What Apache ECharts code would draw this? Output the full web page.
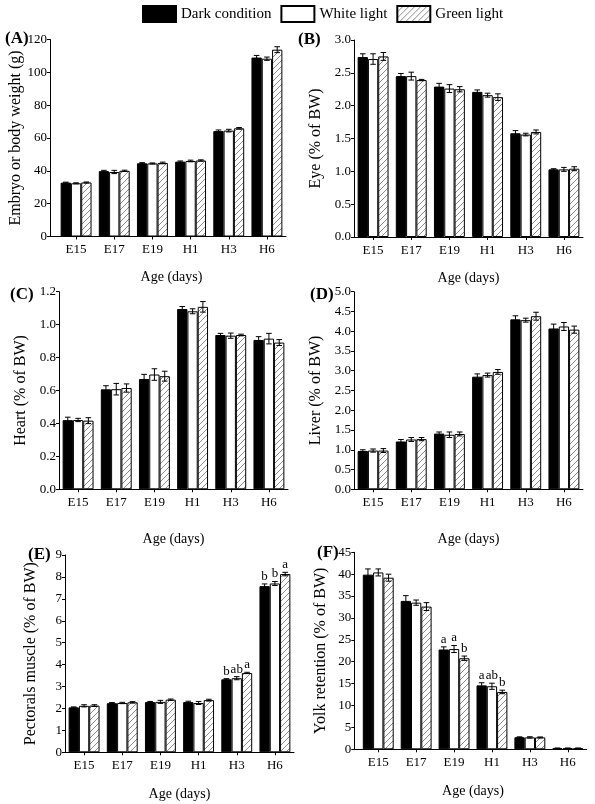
<!DOCTYPE html>
<html>
<head>
<meta charset="utf-8">
<script src="https://cdn.jsdelivr.net/npm/echarts@6/dist/echarts.min.js"></script>
<style>
html,body{margin:0;padding:0;background:#fff;}
#chart{width:595px;height:804px;}
</style>
</head>
<body>
<div id="chart"></div>
<script>
// ---------- data ----------
const categories = ['E15', 'E17', 'E19', 'H1', 'H3', 'H6'];
const seriesNames = ['Dark condition', 'White light', 'Green light'];

// (A) Embryo or body weight (g)
const weightDark = [32.8, 39.8, 44.6, 45.6, 64.2, 109.0];
const weightWhite = [32.4, 39.3, 44.5, 46.0, 64.5, 108.3];
const weightGreen = [32.9, 40.0, 44.8, 46.3, 65.9, 113.8];
const weightDarkErr = [0.3, 0.5, 0.4, 0.4, 0.7, 1.3];
const weightWhiteErr = [0.3, 1.0, 0.3, 0.5, 0.8, 1.0];
const weightGreenErr = [0.3, 0.4, 0.5, 0.4, 0.5, 1.8];

// (B) Eye (% of BW)
const eyeDark = [2.74, 2.45, 2.29, 2.21, 1.58, 1.03];
const eyeWhite = [2.71, 2.45, 2.26, 2.16, 1.56, 1.03];
const eyeGreen = [2.75, 2.39, 2.25, 2.13, 1.60, 1.04];
const eyeDarkErr = [0.05, 0.04, 0.05, 0.03, 0.04, 0.01];
const eyeWhiteErr = [0.08, 0.06, 0.06, 0.03, 0.02, 0.03];
const eyeGreenErr = [0.06, 0.01, 0.04, 0.05, 0.03, 0.03];

// (C) Heart (% of BW)
const heartDark = [0.42, 0.607, 0.67, 1.095, 0.937, 0.907];
const heartWhite = [0.421, 0.608, 0.697, 1.081, 0.933, 0.915];
const heartGreen = [0.417, 0.615, 0.687, 1.108, 0.937, 0.891];
const heartDarkErr = [0.018, 0.022, 0.028, 0.015, 0.01, 0.02];
const heartWhiteErr = [0.01, 0.035, 0.035, 0.015, 0.016, 0.032];
const heartGreenErr = [0.018, 0.025, 0.03, 0.032, 0.005, 0.018];

// (D) Liver (% of BW)
const liverDark = [0.97, 1.21, 1.41, 2.85, 4.30, 4.07];
const liverWhite = [0.98, 1.26, 1.38, 2.89, 4.28, 4.12];
const liverGreen = [0.98, 1.27, 1.40, 2.97, 4.38, 4.04];
const liverDarkErr = [0.03, 0.05, 0.04, 0.07, 0.09, 0.11];
const liverWhiteErr = [0.04, 0.05, 0.07, 0.05, 0.05, 0.10];
const liverGreenErr = [0.05, 0.04, 0.05, 0.06, 0.10, 0.09];

// (E) Pectorals muscle (% of BW)
const muscleDark = [2.05, 2.24, 2.29, 2.29, 3.33, 7.58];
const muscleWhite = [2.12, 2.25, 2.30, 2.25, 3.38, 7.70];
const muscleGreen = [2.13, 2.28, 2.40, 2.38, 3.62, 8.13];
const muscleDarkErr = [0.02, 0.03, 0.03, 0.04, 0.03, 0.10];
const muscleWhiteErr = [0.05, 0.03, 0.07, 0.07, 0.07, 0.09];
const muscleGreenErr = [0.04, 0.03, 0.03, 0.04, 0.03, 0.08];
const muscleDarkSig = ['', '', '', '', 'b', 'b'];
const muscleWhiteSig = ['', '', '', '', 'ab', 'b'];
const muscleGreenSig = ['', '', '', '', 'a', 'a'];

// (F) Yolk retention (% of BW)
const yolkDark = [39.9, 33.9, 22.8, 14.6, 2.75, 0.25];
const yolkWhite = [40.4, 33.5, 22.9, 14.4, 2.72, 0.25];
const yolkGreen = [39.2, 32.6, 20.8, 13.1, 2.72, 0.25];
const yolkDarkErr = [1.3, 1.2, 0.6, 0.6, 0.1, 0.05];
const yolkWhiteErr = [0.8, 0.6, 0.8, 0.7, 0.15, 0.05];
const yolkGreenErr = [0.8, 0.9, 0.5, 0.4, 0.1, 0.05];
const yolkDarkSig = ['', '', 'a', 'a', '', ''];
const yolkWhiteSig = ['', '', 'a', 'ab', '', ''];
const yolkGreenSig = ['', '', 'b', 'b', '', ''];

// y-axis tick settings
const yMaxA = 120, yStepA = 20;
const yMaxB = 3.0, yStepB = 0.5;
const yMaxC = 1.2, yStepC = 0.2;
const yMaxD = 5.0, yStepD = 0.5;
const yMaxE = 9, yStepE = 1;
const yMaxF = 45, yStepF = 5;

// ---------- layout ----------
const FONT = '"Liberation Serif", "Times New Roman", serif';
const panels = [
  {tag:'(A)', tagL:5, tagT:30, yName:'Embryo or body weight (g)', left:57, width:229, top:39.5, height:197, axisX:50, yGap:22, xGap:34, dec:0,
   max:yMaxA, step:yStepA, vals:[weightDark, weightWhite, weightGreen], errs:[weightDarkErr, weightWhiteErr, weightGreenErr], sig:null},
  {tag:'(B)', tagL:298, tagT:31, yName:'Eye (% of BW)', left:354, width:229, top:40, height:197, axisX:354, yGap:30, xGap:34, dec:1,
   max:yMaxB, step:yStepB, vals:[eyeDark, eyeWhite, eyeGreen], errs:[eyeDarkErr, eyeWhiteErr, eyeGreenErr], sig:null},
  {tag:'(C)', tagL:10, tagT:286, yName:'Heart (% of BW)', left:59, width:229, top:291.7, height:197.6, axisX:59, yGap:30, xGap:43, dec:1,
   max:yMaxC, step:yStepC, vals:[heartDark, heartWhite, heartGreen], errs:[heartDarkErr, heartWhiteErr, heartGreenErr], sig:null},
  {tag:'(D)', tagL:310, tagT:286, yName:'Liver (% of BW)', left:354, width:229, top:291.7, height:197.6, axisX:354, yGap:30, xGap:43, dec:1,
   max:yMaxD, step:yStepD, vals:[liverDark, liverWhite, liverGreen], errs:[liverDarkErr, liverWhiteErr, liverGreenErr], sig:null},
  {tag:'(E)', tagL:28, tagT:546, yName:'Pectorals muscle (% of BW)', left:65, width:229, top:555, height:197.3, axisX:65, yGap:26, xGap:35, dec:0,
   max:yMaxE, step:yStepE, vals:[muscleDark, muscleWhite, muscleGreen], errs:[muscleDarkErr, muscleWhiteErr, muscleGreenErr],
   sig:[muscleDarkSig, muscleWhiteSig, muscleGreenSig]},
  {tag:'(F)', tagL:317, tagT:544, yName:'Yolk retention (% of BW)', left:359.3, width:227.4, top:552.3, height:197, axisX:354.3, yGap:26, xGap:35, dec:0,
   max:yMaxF, step:yStepF, vals:[yolkDark, yolkWhite, yolkGreen], errs:[yolkDarkErr, yolkWhiteErr, yolkGreenErr],
   sig:[yolkDarkSig, yolkWhiteSig, yolkGreenSig]}
];

function hatchCanvas() {
  const c = document.createElement('canvas');
  c.width = 6; c.height = 6;
  const g = c.getContext('2d');
  g.fillStyle = '#fff'; g.fillRect(0, 0, 6, 6);
  g.strokeStyle = '#707070'; g.lineWidth = 0.8;
  g.beginPath();
  g.moveTo(0, 6); g.lineTo(6, 0);
  g.moveTo(-1, 1); g.lineTo(1, -1);
  g.moveTo(5, 7); g.lineTo(7, 5);
  g.stroke();
  return c;
}
const hatch = {image: hatchCanvas(), repeat: 'repeat'};
const fills = ['#000', '#fff', hatch];
const BW = 10.3;

const grids = [], xAxes = [], yAxes = [], series = [], titles = [];
panels.forEach((p) => {
  const gi = grids.length;
  grids.push({left: p.left, top: p.top, width: p.width, height: p.height, containLabel: false});
  xAxes.push({
    type: 'category', gridIndex: gi, data: categories,
    name: 'Age (days)', nameLocation: 'middle', nameGap: p.xGap,
    nameTextStyle: {fontFamily: FONT, fontSize: 14, color: '#000'},
    axisLine: {show: true, lineStyle: {color: '#000', width: 1}},
    axisTick: {show: true, alignWithLabel: true, length: 3, lineStyle: {color: '#000'}},
    axisLabel: {fontFamily: FONT, fontSize: 13, color: '#000', margin: 7},
    splitLine: {show: false}
  });
  yAxes.push({
    type: 'value', gridIndex: gi, min: 0, max: p.max, interval: p.step,
    offset: p.left - p.axisX,
    name: p.yName, nameLocation: 'middle', nameGap: p.yGap,
    nameTextStyle: {fontFamily: FONT, fontSize: 16, color: '#000'},
    axisLine: {show: true, lineStyle: {color: '#000', width: 1}},
    axisTick: {show: true, length: 3, lineStyle: {color: '#000'}},
    axisLabel: {fontFamily: FONT, fontSize: 13, color: '#000', margin: 3,
      formatter: v => v.toFixed(p.dec)},
    splitLine: {show: false}
  });
  titles.push({text: p.tag, left: p.tagL, top: p.tagT, padding: 0,
    textStyle: {fontFamily: FONT, fontSize: 17, fontWeight: 'bold', color: '#000'}});
  for (let k = 0; k < 3; k++) {
    series.push({
      type: 'bar', name: seriesNames[k], xAxisIndex: gi, yAxisIndex: gi,
      data: p.vals[k], barWidth: BW, barGap: '0%',
      itemStyle: {color: fills[k], borderColor: '#000', borderWidth: 1},
      emphasis: {disabled: true}, animation: false
    });
  }
  for (let k = 0; k < 3; k++) {
    const off = (k - 1) * BW;
    const letters = p.sig ? p.sig[k] : null;
    series.push({
      type: 'custom', xAxisIndex: gi, yAxisIndex: gi, z: 5, clip: false,
      data: p.vals[k].map((v, i) => [i, v, p.errs[k][i]]),
      renderItem: (params, api) => {
        const i = api.value(0), v = api.value(1), e = api.value(2);
        const x = api.coord([i, v])[0] + off;
        const yT = api.coord([i, v + e])[1];
        const yB = api.coord([i, v - e])[1];
        const cap = 2.8;
        const st = {stroke: '#000', lineWidth: 1};
        const ch = [
          {type: 'line', shape: {x1: x, y1: yT, x2: x, y2: yB}, style: st},
          {type: 'line', shape: {x1: x - cap, y1: yT, x2: x + cap, y2: yT}, style: st},
          {type: 'line', shape: {x1: x - cap, y1: yB, x2: x + cap, y2: yB}, style: st}
        ];
        const lab = letters ? letters[params.dataIndex] : '';
        if (lab) {
          ch.push({type: 'text', style: {text: lab, x: x, y: yT - 1, align: 'center', verticalAlign: 'bottom',
            font: '13px ' + FONT, fill: '#000'}});
        }
        return {type: 'group', children: ch};
      },
      animation: false, silent: true
    });
  }
  // axis-line extension where the y axis sits left of the category band
  if (p.left - p.axisX > 0.5) {
    const gj = grids.length;
    grids.push({left: p.axisX, top: p.top, width: p.left - p.axisX + 1, height: p.height});
    xAxes.push({type: 'value', gridIndex: gj, min: 0, max: 1,
      axisLine: {show: true, onZero: false, lineStyle: {color: '#000', width: 1}},
      axisTick: {show: false}, axisLabel: {show: false}, splitLine: {show: false}});
    yAxes.push({type: 'value', gridIndex: gj, min: 0, max: 1, show: false});
  }
});

const chart = echarts.init(document.getElementById('chart'), null, {renderer: 'canvas'});
chart.setOption({
  backgroundColor: '#fff',
  animation: false,
  title: titles,
  legend: {
    data: seriesNames, left: 142, top: 5, padding: 0,
    itemWidth: 33, itemHeight: 16, itemGap: 9, icon: 'rect',
    textStyle: {fontFamily: FONT, fontSize: 15, color: '#000'},
    selectedMode: false
  },
  grid: grids, xAxis: xAxes, yAxis: yAxes, series: series
});
</script>
</body>
</html>
